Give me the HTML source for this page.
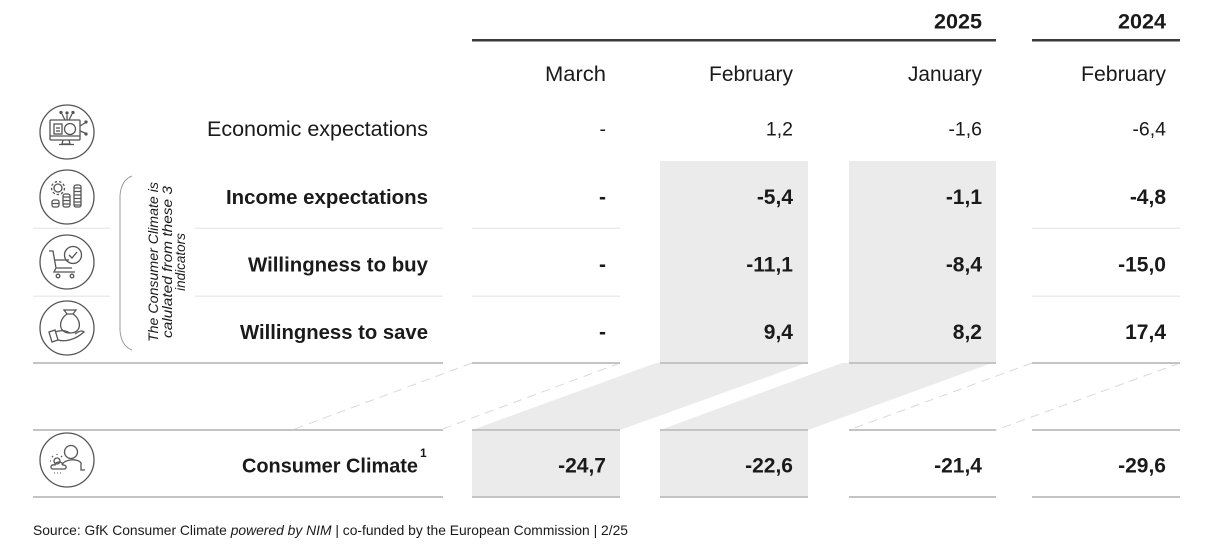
<!DOCTYPE html>
<html><head><meta charset="utf-8"><style>
html,body{margin:0;padding:0;background:#fff;}
svg{display:block;}
text{font-family:"Liberation Sans",Arial,sans-serif;fill:#1a1a1a;}
.b{font-weight:bold;}
</style></head><body>
<svg width="1224" height="552" viewBox="0 0 1224 552" xmlns="http://www.w3.org/2000/svg">
<!-- gray boxes -->
<rect x="660" y="161" width="148" height="202" fill="#ebebeb"/>
<rect x="849" y="161" width="147" height="202" fill="#ebebeb"/>
<rect x="472" y="430" width="148" height="67" fill="#ebebeb"/>
<rect x="660" y="430" width="148" height="67" fill="#ebebeb"/>
<!-- parallelograms -->
<polygon points="656,363 806,363 620,430 472,430" fill="#ebebeb"/>
<polygon points="842,363 992,363 808,430 660,430" fill="#ebebeb"/>
<!-- dashed -->
<g stroke="#d9d9d9" stroke-width="1" stroke-dasharray="9 6" fill="none">
<line x1="472" y1="363" x2="292" y2="430"/>
<line x1="620" y1="363" x2="440" y2="430"/>
<line x1="1032" y1="363" x2="849" y2="430"/>
<line x1="1180" y1="363" x2="996" y2="430"/>
</g>
<!-- top thick lines -->
<rect x="472" y="39" width="524" height="2.5" fill="#3a3a3a"/>
<rect x="1032" y="39" width="148" height="2.5" fill="#3a3a3a"/>
<!-- light row lines -->
<g fill="#ececec">
<rect x="33" y="227.5" width="77" height="1.5"/>
<rect x="195" y="227.5" width="248" height="1.5"/>
<rect x="472" y="227.5" width="148" height="1.5"/>
<rect x="1032" y="227.5" width="148" height="1.5"/>
<rect x="33" y="295.5" width="77" height="1.5"/>
<rect x="195" y="295.5" width="248" height="1.5"/>
<rect x="472" y="295.5" width="148" height="1.5"/>
<rect x="1032" y="295.5" width="148" height="1.5"/>
</g>
<!-- medium lines -->
<g fill="#c4c4c4">
<rect x="33" y="362" width="410" height="2"/>
<rect x="472" y="362" width="148" height="2"/>
<rect x="660" y="362" width="148" height="2"/>
<rect x="849" y="362" width="147" height="2"/>
<rect x="1032" y="362" width="148" height="2"/>
<rect x="33" y="429" width="410" height="2"/>
<rect x="472" y="429" width="148" height="2"/>
<rect x="660" y="429" width="148" height="2"/>
<rect x="849" y="429" width="147" height="2"/>
<rect x="1032" y="429" width="148" height="2"/>
<rect x="33" y="496" width="410" height="2"/>
<rect x="472" y="496" width="148" height="2"/>
<rect x="660" y="496" width="148" height="2"/>
<rect x="849" y="496" width="147" height="2"/>
<rect x="1032" y="496" width="148" height="2"/>
</g>
<!-- headers -->
<text class="b" x="982" y="28.5" font-size="21.5" text-anchor="end" textLength="48" lengthAdjust="spacingAndGlyphs">2025</text>
<text class="b" x="1166" y="28.5" font-size="21.5" text-anchor="end" textLength="48" lengthAdjust="spacingAndGlyphs">2024</text>
<text x="606" y="81" font-size="21" text-anchor="end" textLength="61" lengthAdjust="spacingAndGlyphs">March</text>
<text x="793" y="81" font-size="21" text-anchor="end" textLength="84" lengthAdjust="spacingAndGlyphs">February</text>
<text x="982" y="81" font-size="21" text-anchor="end" textLength="74" lengthAdjust="spacingAndGlyphs">January</text>
<text x="1166" y="81" font-size="21" text-anchor="end" textLength="85" lengthAdjust="spacingAndGlyphs">February</text>
<!-- labels -->
<text x="428" y="136" font-size="21" text-anchor="end" textLength="221" lengthAdjust="spacingAndGlyphs">Economic expectations</text>
<text class="b" x="428" y="204" font-size="20.4" text-anchor="end" textLength="202" lengthAdjust="spacingAndGlyphs">Income expectations</text>
<text class="b" x="428" y="271.5" font-size="20.4" text-anchor="end" textLength="180" lengthAdjust="spacingAndGlyphs">Willingness to buy</text>
<text class="b" x="428" y="339" font-size="20.4" text-anchor="end" textLength="188" lengthAdjust="spacingAndGlyphs">Willingness to save</text>
<text class="b" x="418" y="472.5" font-size="20.4" text-anchor="end" textLength="176" lengthAdjust="spacingAndGlyphs">Consumer Climate</text>
<text class="b" x="420" y="457" font-size="12">1</text>
<!-- values row 1 -->
<g font-size="19.5" text-anchor="end">
<text x="606" y="135.5">-</text>
<text x="793" y="135.5">1,2</text>
<text x="982" y="135.5">-1,6</text>
<text x="1166" y="135.5">-6,4</text>
</g>
<g class="b" font-size="21" text-anchor="end" font-weight="bold">
<text x="606" y="204">-</text>
<text x="793" y="204">-5,4</text>
<text x="982" y="204">-1,1</text>
<text x="1166" y="204">-4,8</text>
<text x="606" y="271.5">-</text>
<text x="793" y="271.5">-11,1</text>
<text x="982" y="271.5">-8,4</text>
<text x="1166" y="271.5">-15,0</text>
<text x="606" y="339">-</text>
<text x="793" y="339">9,4</text>
<text x="982" y="339">8,2</text>
<text x="1166" y="339">17,4</text>
<text x="606" y="472.5">-24,7</text>
<text x="793" y="472.5">-22,6</text>
<text x="982" y="472.5">-21,4</text>
<text x="1166" y="472.5">-29,6</text>
</g>
<!-- bracket -->
<path d="M132 176 Q121 180 120 196 L120 330 Q121 346 132 350" stroke="#9a9a9a" stroke-width="1" fill="none"/>
<g font-size="13.5" font-style="italic" text-anchor="middle">
<text transform="translate(158,262) rotate(-90)" textLength="160" lengthAdjust="spacingAndGlyphs">The Consumer Climate is</text>
<text transform="translate(172,262) rotate(-90)" textLength="152" lengthAdjust="spacingAndGlyphs">calulated from these 3</text>
<text transform="translate(185,262) rotate(-90)">indicators</text>
</g>
<!-- icons -->
<g stroke="#555" stroke-width="1.3" fill="none">
<circle cx="67" cy="132" r="27"/>
<circle cx="67" cy="197" r="27"/>
<circle cx="67" cy="262" r="27"/>
<circle cx="67" cy="328" r="27"/>
<circle cx="67" cy="460" r="27"/>
<!-- icon1 -->
<g transform="translate(67,132)">
<rect x="-17" y="-12" width="30" height="20" rx="1"/>
<line x1="-17" y1="4" x2="13" y2="4"/>
<path d="M-4 8 L-5 12 L3 12 L2 8"/>
<line x1="-8" y1="12.5" x2="7" y2="12.5"/>
<rect x="-13" y="-8" width="8" height="10"/>
<line x1="-11" y1="-4" x2="-7" y2="-4"/>
<line x1="-11" y1="-1" x2="-7" y2="-1"/>
<circle cx="3" cy="-3" r="5.5"/>
<path d="M0 -17 L0 -12 M-5 -18 L-2 -12 M5 -18 L2 -12 M13 -6 L18 -9 M13 -1 L18 1"/>
<circle cx="0" cy="-19" r="1" fill="#555"/>
<circle cx="-6" cy="-19.5" r="1" fill="#555"/>
<circle cx="6" cy="-19.5" r="1" fill="#555"/>
<circle cx="19" cy="-10" r="1" fill="#555"/>
<circle cx="19" cy="2" r="1" fill="#555"/>
</g>
<!-- icon2 -->
<g transform="translate(67,197)">
<circle cx="-9" cy="-9" r="4"/>
<circle cx="-9" cy="-9" r="6.5" stroke-dasharray="2.5 2"/>
<rect x="-15" y="3" width="7" height="7" rx="2"/>
<rect x="-4" y="-3" width="7" height="13" rx="2"/>
<rect x="7" y="-12" width="7" height="22" rx="2"/>
<path d="M-15 6.5 H-8 M-4 0 H3 M-4 3.5 H3 M-4 7 H3 M7 -9 H14 M7 -5.5 H14 M7 -2 H14 M7 1.5 H14 M7 5 H14 M7 8 H14"/>
</g>
<!-- icon3 -->
<g transform="translate(67,262)">
<path d="M-18 -11 L-14 -11 L-11 6 L5 6 M-13 -2 L2 -2 M-11 6 L-13 10 L8 10"/>
<circle cx="-9" cy="14" r="1.8"/>
<circle cx="5" cy="14" r="1.8"/>
<circle cx="6" cy="-7" r="8.5"/>
<path d="M2 -7 L5 -4 L10 -10"/>
</g>
<!-- icon4 -->
<g transform="translate(67,328)">
<path d="M0 -14 L-3 -18 L9 -18 L6 -14 Z"/>
<path d="M0 -14 C-9 -8 -9 5 3 5 C15 5 15 -8 6 -14"/>
<path d="M-18 4 L-12 2 L-9 12 L-15 14 Z"/>
<path d="M-12 4 C-6 2 -2 2 3 5 M-9 12 C-2 14 8 12 17 4 C15 2 12 3 8 6"/>
</g>
<!-- icon5 -->
<g transform="translate(67,460)">
<circle cx="4" cy="-8" r="6.5"/>
<path d="M-5 5 C-3 -1 11 -2 14 3 L14 10 L18 10"/>
<circle cx="-10" cy="1" r="3"/>
<path d="M-10 -5 V-6 M-16 1 H-17 M-14 -3 L-15 -4 M-6 -3 L-5 -4"/>
<path d="M-14 9 C-17 9 -17 4 -12 5 C-11 1 -5 1 -4 5 C0 5 0 9 -3 9 Z"/>
<path d="M-13 13 H-12 M-10 13 H-9 M-7 13 H-6" stroke-width="1"/>
</g>
</g>
<text x="33" y="535" font-size="14" textLength="595" lengthAdjust="spacingAndGlyphs">Source: GfK Consumer Climate <tspan font-style="italic">powered by NIM</tspan> | co-funded by the European Commission | 2/25</text>
</svg>
</body></html>
